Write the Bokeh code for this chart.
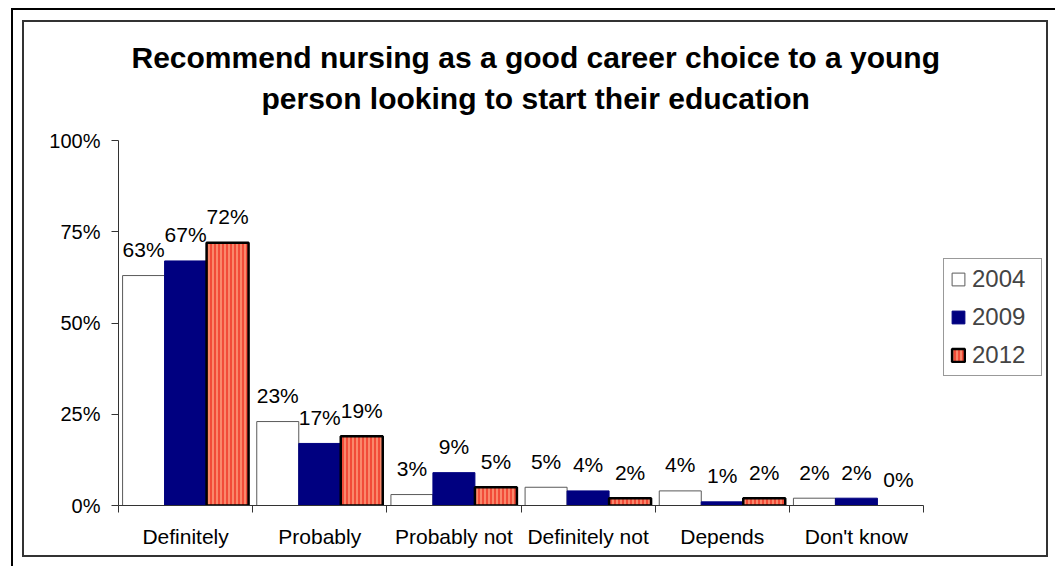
from bokeh.plotting import figure
from bokeh.models import (ColumnDataSource, Range1d, FixedTicker, NumeralTickFormatter,
                          Legend, LegendItem, Title)
from bokeh.core.properties import value
from bokeh.embed import file_html
from bokeh.resources import INLINE

# ---------------- data ----------------
categories = ["Definitely", "Probably", "Probably not", "Definitely not", "Depends", "Don't know"]
years = ["2004", "2009", "2012"]
v2004 = [0.63, 0.23, 0.03, 0.05, 0.04, 0.02]
v2009 = [0.67, 0.17, 0.09, 0.04, 0.01, 0.02]
v2012 = [0.72, 0.19, 0.05, 0.02, 0.02, 0.00]
y_ticks = [0, 0.25, 0.5, 0.75, 1.0]
title_lines = ["Recommend nursing as a good career choice to a young",
               "person looking to start their education"]

FONT = "Liberation Sans"
BAR_W = 0.313

p = figure(width=1026, height=537,
           frame_width=805, frame_height=365,
           min_border_left=96, min_border_right=125,
           min_border_top=120, min_border_bottom=52,
           x_range=Range1d(0, len(categories)), y_range=Range1d(0, 1),
           output_backend="svg", toolbar_location=None,
           background_fill_color="white", border_fill_color="white")
p.margin = (20, 0, 0, 22)
p.styles = {
    "position": "relative",
    "box-shadow": "11px 10px 0 20px white, 9px 8px 0 20px black",
}
p.stylesheets = [
    ":host::after { content: ''; position: absolute; left: 0px; top: 0px;"
    " width: 1026px; height: 537px; box-sizing: border-box;"
    " border: 2px solid #333333; pointer-events: none; z-index: 100; }"
]
p.xgrid.visible = False
p.ygrid.visible = False
p.outline_line_color = None

n = len(categories)
offsets = [-BAR_W, 0.0, BAR_W]


def make_src(vals, off):
    xs = [i + 0.5 + off for i in range(n)]
    labels = [f"{round(v * 100)}%" for v in vals]
    return ColumnDataSource(dict(x=xs, top=vals, label=labels,
                                 lw=[2.5 if v > 0 else 0 for v in vals]))


s04 = make_src(v2004, offsets[0])
s09 = make_src(v2009, offsets[1])
s12 = make_src(v2012, offsets[2])

r04 = p.vbar(x="x", top="top", width=BAR_W, source=s04,
             fill_color="white", line_color="#5a5a5a", line_width=1)
r09 = p.vbar(x="x", top="top", width=BAR_W, source=s09,
             fill_color="#000080", line_color="#000080", line_width=1)
r12 = p.vbar(x="x", top="top", width=BAR_W, source=s12,
             fill_color="#F24B38", hatch_pattern="vertical_line",
             hatch_color="#FFB08C", hatch_scale=4, hatch_weight=1.2,
             line_color="black", line_width="lw")

for s in (s04, s09, s12):
    p.text(x="x", y="top", text="label", source=s,
           text_font=value(FONT), text_font_size="21px",
           text_align="center", text_baseline="alphabetic",
           y_offset=-26, text_color="black")

# ---------------- axes ----------------
yax = p.yaxis[0]
yax.ticker = FixedTicker(ticks=y_ticks)
yax.formatter = NumeralTickFormatter(format="0%")
yax.major_tick_out = 7
yax.major_tick_in = 0
yax.minor_tick_out = 0
yax.minor_tick_in = 0
yax.major_label_text_font = FONT
yax.major_label_text_font_size = "20px"
yax.major_label_text_color = "black"
yax.major_label_standoff = 11
yax.axis_line_color = "#333333"
yax.major_tick_line_color = "#333333"

xax = p.xaxis[0]
xax.ticker = FixedTicker(ticks=[i + 0.5 for i in range(n)],
                         minor_ticks=list(range(n + 1)))
xax.major_label_overrides = {i + 0.5: c for i, c in enumerate(categories)}
xax.major_tick_out = 0
xax.major_tick_in = 0
xax.minor_tick_out = 7
xax.minor_tick_in = 0
xax.minor_tick_line_color = "#333333"
xax.major_label_text_font = FONT
xax.major_label_text_font_size = "21px"
xax.major_label_text_color = "black"
xax.major_label_standoff = 12
xax.axis_line_color = "#333333"

# ---------------- legend ----------------
legend = Legend(items=[LegendItem(label=years[0], renderers=[r04]),
                       LegendItem(label=years[1], renderers=[r09]),
                       LegendItem(label=years[2], renderers=[r12])],
                location=(20, 129),
                label_text_font=FONT, label_text_font_size="24px",
                glyph_width=16, glyph_height=16, label_standoff=6,
                label_width=63,
                padding=6, spacing=10, margin=0,
                border_line_color="#333333", border_line_width=1.5,
                background_fill_color="white", background_fill_alpha=1)
p.add_layout(legend, "right")

# ---------------- title (two centred lines) ----------------
p.title.text = title_lines[0]
p.title.align = "left"
p.title.offset = 13
p.title.standoff = -41
p.title.text_font = FONT
p.title.text_font_size = "30px"
p.title.text_font_style = "bold"
p.title.text_color = "black"

t2 = Title(text=title_lines[1], align="left", offset=143, standoff=52,
           text_font=FONT, text_font_size="30px", text_font_style="bold",
           text_color="black")
p.add_layout(t2, "above")

open("out.html", "w").write(file_html(p, INLINE))
